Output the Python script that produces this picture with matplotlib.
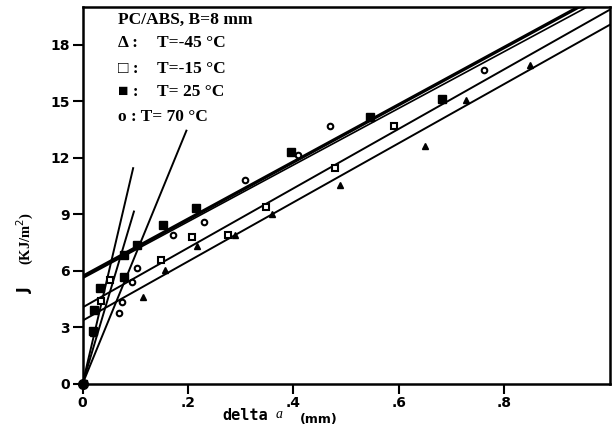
import matplotlib
matplotlib.use('Agg')
import numpy as np
import matplotlib.pyplot as plt

# T = -45 C (filled triangles)
da_m45 = [0.0, 0.02, 0.115, 0.156, 0.217, 0.289, 0.360, 0.489, 0.649, 0.728, 0.848]
J_m45 = [0.0, 2.7, 4.64, 6.05, 7.33, 7.91, 9.03, 10.57, 12.6, 15.08, 16.94]

# T = -15 C (open squares)
da_m15 = [0.0, 0.035, 0.052, 0.148, 0.207, 0.276, 0.347, 0.478, 0.590]
J_m15 = [0.0, 4.4, 5.5, 6.6, 7.8, 7.9, 9.4, 11.45, 13.7]

# T = 25 C (filled squares)
da_25 = [0.0, 0.019, 0.022, 0.033, 0.079, 0.079, 0.103, 0.153, 0.216, 0.396, 0.545, 0.682]
J_25 = [0.0, 2.8, 3.9, 5.1, 5.7, 6.85, 7.4, 8.45, 9.35, 12.3, 14.15, 15.1]

# T = 70 C (open circles)
da_70 = [0.0, 0.070, 0.074, 0.093, 0.103, 0.172, 0.231, 0.308, 0.409, 0.470, 0.761]
J_70 = [0.0, 3.75, 4.37, 5.43, 6.14, 7.88, 8.62, 10.83, 12.16, 13.67, 16.64]

# regression lines J = b + m * da  (intercept, slope)
fit_intercepts = [3.36, 4.06, 5.70, 5.60]
fit_slopes = [15.7, 15.8, 15.2, 15.05]
fit_widths = [1.4, 1.4, 2.4, 1.2]

# blunting lines from the origin, end points
blunt_da = [0.096, 0.0975, 0.197]
blunt_J = [11.45, 9.15, 13.44]

xticks = [0, 0.2, 0.4, 0.6, 0.8]
xtick_labels = ['0', '.2', '.4', '.6', '.8']
yticks = [0, 3, 6, 9, 12, 15, 18]

legend_title = 'PC/ABS, B=8 mm'
legend_syms = ['\u0394 :', '\u25a1 :', '\u25a0 :', 'o : T= 70 \u00b0C']
legend_temps = ['T=-45 \u00b0C', 'T=-15 \u00b0C', 'T= 25 \u00b0C', '']

fig = plt.figure(figsize=(6.13, 4.29), dpi=100)
ax = fig.add_axes([0.1346, 0.1049, 0.8604, 0.8788])

xx = np.array([0.0, 1.0])
for b, m, w in zip(fit_intercepts, fit_slopes, fit_widths):
    ax.plot(xx, b + m * xx, color='black', lw=w)

for x1, y1 in zip(blunt_da, blunt_J):
    ax.plot([0, x1], [0, y1], color='black', lw=1.4)

ax.plot(da_m45, J_m45, '^', color='black', ms=4.5, ls='none')
ax.plot(da_m15, J_m15, 's', mfc='white', mec='black', mew=1.5, ms=5, ls='none')
ax.plot(da_25, J_25, 's', color='black', ms=5.5, ls='none')
ax.plot(da_70, J_70, 'o', mfc='white', mec='black', mew=1.5, ms=4, ls='none')
ax.plot([0], [0], 'o', color='black', ms=7, clip_on=False, zorder=5)

ax.set_xlim(0, 1.0)
ax.set_ylim(0, 20)
ax.set_xticks(xticks)
ax.set_xticklabels(xtick_labels)
ax.set_yticks(yticks)
ax.tick_params(direction='out', length=7, width=1.5, pad=2, labelsize=10)
for lab in ax.get_xticklabels() + ax.get_yticklabels():
    lab.set_fontweight('bold')
for s in ax.spines.values():
    s.set_linewidth(1.8)

serif = ['Liberation Serif', 'DejaVu Serif']
fig.text(118 / 613, 1 - 20 / 429, legend_title, family=serif, weight='bold',
         fontsize=12.5, va='center')
rows_y = [43, 69, 92, 117]
for y, s, t in zip(rows_y, legend_syms, legend_temps):
    fig.text(118 / 613, 1 - y / 429, s, family=serif, weight='bold',
             fontsize=12.5, va='center')
    if t:
        fig.text(157 / 613, 1 - y / 429, t, family=serif, weight='bold',
                 fontsize=12.5, va='center')

# axis labels
fig.text(222 / 613, 1 - 416 / 429, 'delta', family='DejaVu Sans Mono',
         weight='bold', fontsize=11, va='center')
fig.text(276 / 613, 1 - 415 / 429, 'a', family=serif, style='italic',
         fontsize=10, va='center')
fig.text(300 / 613, 1 - 419 / 429, '(mm)', family='DejaVu Sans', weight='bold',
         fontsize=9, va='center')
fig.text(25 / 613, 1 - 290 / 429, 'J', family='DejaVu Sans', weight='bold',
         fontsize=11, rotation=90, ha='center', va='center')
fig.text(25 / 613, 1 - 238 / 429, '(KJ/m$^2$)', family=serif, weight='bold',
         fontsize=10.5, rotation=90, ha='center', va='center')

fig.savefig('out.png', dpi=100)
